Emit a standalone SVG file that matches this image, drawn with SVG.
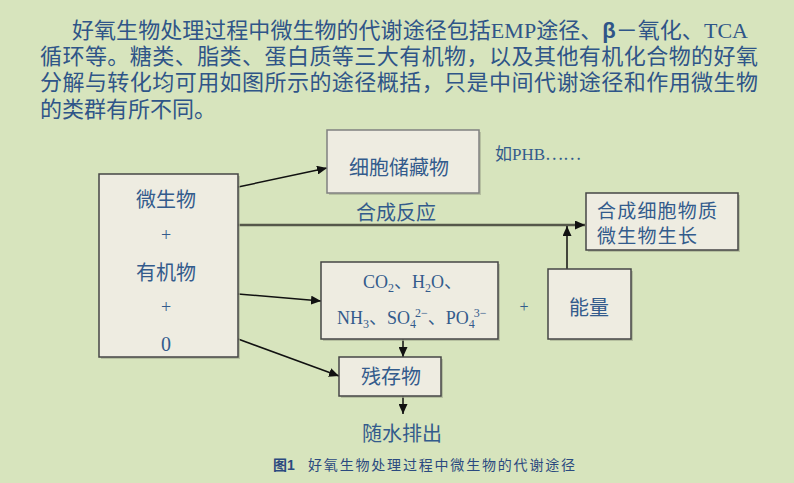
<svg xmlns="http://www.w3.org/2000/svg" width="794" height="483" viewBox="0 0 794 483">
<defs>
<style>
.bg{fill:#D7E4BD}
.box{fill:#EEECE1;stroke:#454545;stroke-width:1.5}
.shadow{fill:#A8B094;opacity:0.7}
.t{font-family:"Liberation Serif","Noto Sans CJK SC",serif;fill:#335B8C}
.cjk{font-family:"Noto Sans CJK SC",sans-serif;fill:#335B8C}
.hd{font-family:"Liberation Serif","Noto Sans CJK SC",serif;fill:#2F5588;font-size:22px}
.cap{font-family:"Liberation Sans","Noto Sans CJK SC",sans-serif;fill:#2B4A7F;font-size:14px}
.lbl{font-size:20px}
.ln{stroke:#111;stroke-width:1.5;fill:none}
.main{stroke:#55574A;stroke-width:2.5;fill:none}
</style>
<marker id="ah" markerUnits="userSpaceOnUse" markerWidth="11" markerHeight="9" refX="10" refY="4.5" orient="auto">
<path d="M0,0 L10,4.5 L0,9 z" fill="#111"/>
</marker>
</defs>
<rect class="bg" x="0" y="0" width="794" height="483"/>

<g id="header">
<text class="hd" x="72" y="38" textLength="676" lengthAdjust="spacing">好氧生物处理过程中微生物的代谢途径包括EMP途径、<tspan font-family="Liberation Sans, sans-serif" font-weight="bold">β</tspan>－氧化、TCA</text>
<text class="hd" x="40" y="64" textLength="718" lengthAdjust="spacing">循环等。糖类、脂类、蛋白质等三大有机物，以及其他有机化合物的好氧</text>
<text class="hd" x="40" y="90" textLength="718" lengthAdjust="spacing">分解与转化均可用如图所示的途径概括，只是中间代谢途径和作用微生物</text>
<text class="hd" x="40" y="117">的类群有所不同。</text>
</g>

<g id="connectors">
<line class="main" x1="238" y1="225" x2="585" y2="225" marker-end="url(#ah)"/>
<line class="ln" x1="567" y1="269" x2="567" y2="226" marker-end="url(#ah)"/>
<line class="ln" x1="238" y1="187" x2="327" y2="168" marker-end="url(#ah)"/>
<line class="ln" x1="238" y1="294" x2="321" y2="301" marker-end="url(#ah)"/>
<line class="ln" x1="238" y1="339" x2="339" y2="376" marker-end="url(#ah)"/>
<line class="ln" x1="403" y1="339" x2="403" y2="357" marker-end="url(#ah)"/>
<line class="ln" x1="403" y1="396" x2="403" y2="414" marker-end="url(#ah)"/>
<text class="cjk lbl" x="396" y="220" text-anchor="middle">合成反应</text>
</g>

<g id="source">
<rect class="shadow" x="101" y="176" width="139" height="183"/>
<rect class="box" x="99" y="174" width="139" height="183"/>
<text class="cjk lbl" x="166" y="207" text-anchor="middle">微生物</text>
<text class="t" font-size="18" x="166" y="241" text-anchor="middle">+</text>
<text class="cjk lbl" x="166" y="280" text-anchor="middle">有机物</text>
<text class="t" font-size="18" x="166" y="313" text-anchor="middle">+</text>
<text class="t" font-size="20" x="166" y="351" text-anchor="middle">0</text>
</g>

<g id="storage">
<rect class="shadow" x="329" y="132" width="152" height="63"/>
<rect class="box" x="327" y="130" width="152" height="63" style="stroke:#808080"/>
<text class="cjk lbl" x="349" y="175">细胞储藏物</text>
</g>

<g id="phb-note">
<text class="t" font-size="17" x="495" y="160">如PHB<tspan font-family="Noto Sans CJK SC, sans-serif">……</tspan></text>
</g>

<g id="synthesis">
<rect class="shadow" x="588" y="195" width="152" height="57"/>
<rect class="box" x="586" y="193" width="152" height="57"/>
<text class="cjk" font-size="19" x="597" y="218" textLength="120" lengthAdjust="spacing">合成细胞物质</text>
<text class="cjk" font-size="19" x="597" y="243" textLength="100" lengthAdjust="spacing">微生物生长</text>
</g>

<g id="products">
<rect class="shadow" x="323" y="264" width="177" height="77"/>
<rect class="box" x="321" y="262" width="177" height="77"/>
<text class="t" font-size="18" x="363" y="288">CO<tspan font-size="12" baseline-shift="-4">2</tspan>、H<tspan font-size="12" baseline-shift="-4">2</tspan>O、</text>
<text class="t" font-size="18" x="337" y="324">NH<tspan font-size="12" baseline-shift="-4">3</tspan>、SO<tspan font-size="12" baseline-shift="-4">4</tspan><tspan font-size="12" dx="-1" baseline-shift="7">2−</tspan>、PO<tspan font-size="12" baseline-shift="-4">4</tspan><tspan font-size="12" dx="-1" baseline-shift="7">3−</tspan></text>
</g>

<g id="plus">
<text class="t" font-size="16" x="524" y="312" text-anchor="middle">+</text>
</g>

<g id="energy">
<rect class="shadow" x="550" y="271" width="83" height="70"/>
<rect class="box" x="548" y="269" width="83" height="70"/>
<text class="cjk lbl" x="589" y="315" text-anchor="middle">能量</text>
</g>

<g id="residue">
<rect class="shadow" x="341" y="359" width="102" height="39"/>
<rect class="box" x="339" y="357" width="102" height="39"/>
<text class="cjk lbl" x="391" y="384" text-anchor="middle">残存物</text>
</g>

<g id="discharge">
<text class="cjk lbl" x="402" y="441" text-anchor="middle">随水排出</text>
</g>

<g id="caption">
<text class="cap" x="273" y="470" font-weight="bold">图1</text>
<text class="cap" x="308" y="470" textLength="267" lengthAdjust="spacing">好氧生物处理过程中微生物的代谢途径</text>
</g>
</svg>
